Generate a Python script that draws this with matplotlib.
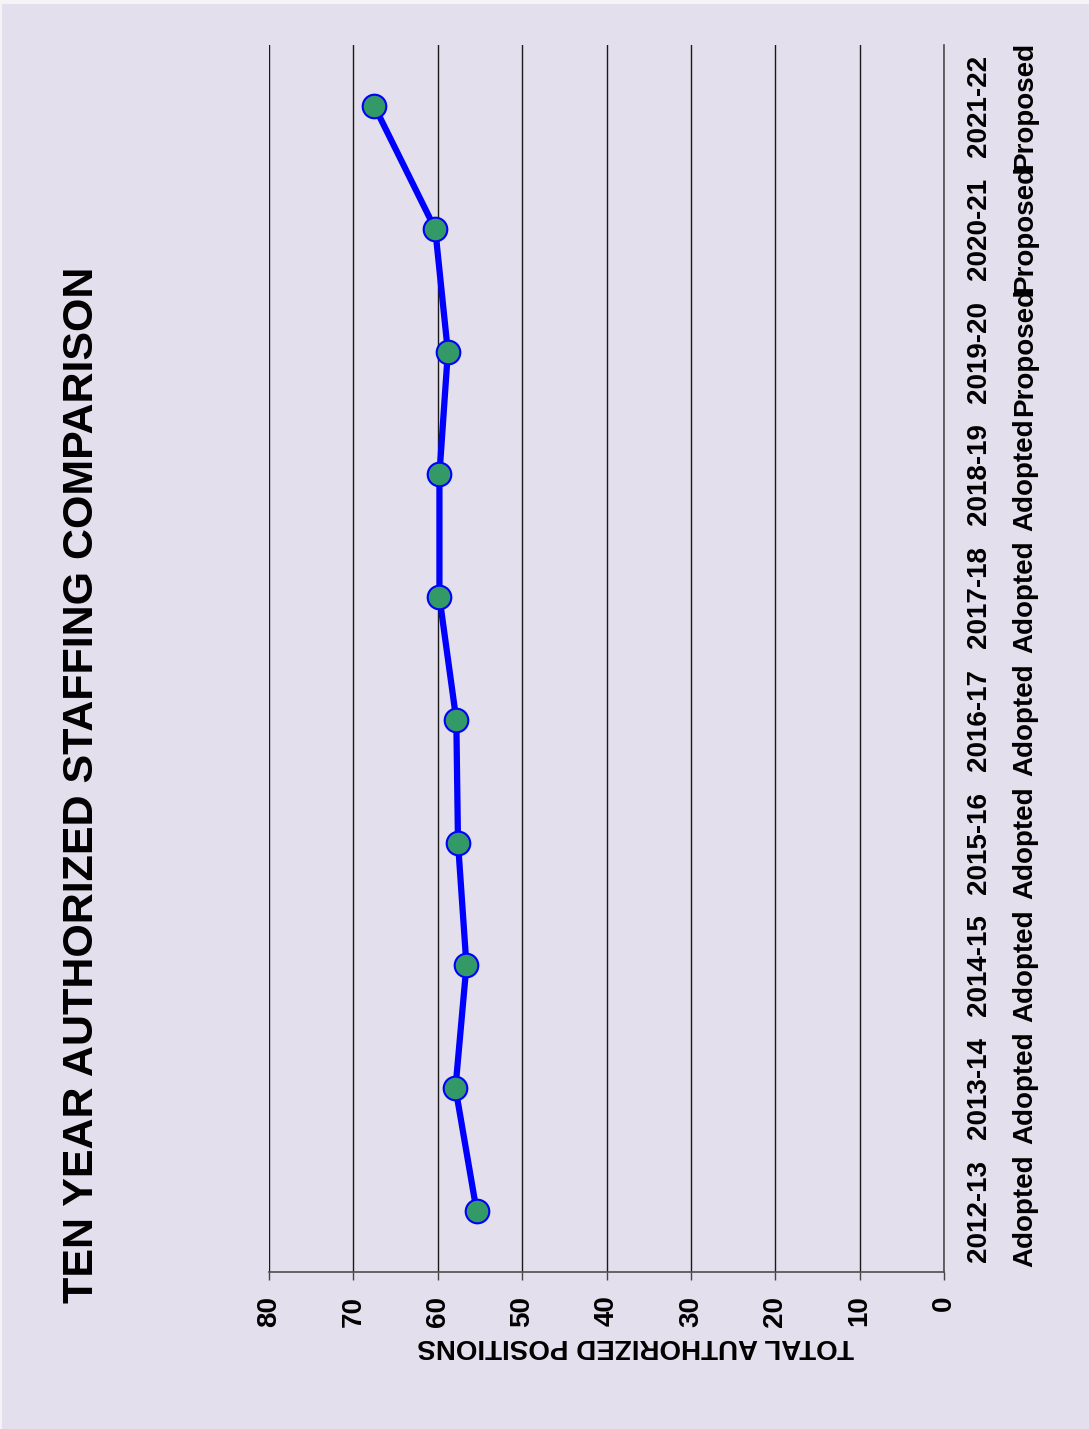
import matplotlib.pyplot as plt
from matplotlib.patches import Rectangle

# staffing data (chart is drawn rotated 90 degrees, like the source page)
years = ['2012-13', '2013-14', '2014-15', '2015-16', '2016-17',
         '2017-18', '2018-19', '2019-20', '2020-21', '2021-22']
status = ['Adopted'] * 7 + ['Proposed'] * 3
positions = [55.4, 57.9, 56.6, 57.6, 57.8, 59.8, 59.8, 58.8, 60.3, 67.5]
value_ticks = [0, 10, 20, 30, 40, 50, 60, 70, 80]

bg = '#E4DFEC'
plt.rcParams['font.family'] = ['Liberation Sans', 'DejaVu Sans']
plt.rcParams['font.weight'] = 'bold'

W, H = 1089, 1429
fig = plt.figure(figsize=(W / 100, H / 100), dpi=100, facecolor='#F4F4F6')
fig.patches.append(Rectangle((2 / W, 0), 1 - 2 / W, 1 - 4 / H, transform=fig.transFigure,
                             facecolor=bg, edgecolor='none', zorder=-5))

ax = fig.add_axes([269 / W, 1 - 1272 / H, (944 - 269) / W, (1272 - 45) / H])
ax.set_facecolor(bg)
ax.set_zorder(2)

ypos = list(range(len(years)))
ax.plot(positions, ypos, color='#0000FF', lw=4.5, marker='o', markersize=17,
        markerfacecolor='#339966', markeredgecolor='#0000FF', markeredgewidth=1.5, zorder=3)

ax.set_xlim(80, 0)
ax.set_ylim(-0.5, len(years) - 0.5)

ax.set_xticks(value_ticks)
ax.set_xticklabels([str(v) for v in value_ticks], rotation=90, fontsize=20, fontweight='bold')
ax.tick_params(axis='x', direction='out', length=6, width=1, color='#444444', pad=11)
for lbl in ax.get_xticklabels():
    lbl.set_va('top')
    lbl.set_ha('center')
ax.xaxis.grid(True, color='#1a1a1a', lw=1)
ax.set_axisbelow(True)

ax.yaxis.tick_right()
ax.set_yticks(ypos)
ax.set_yticklabels([y + '\n' + s for y, s in zip(years, status)], rotation=90,
                   fontsize=20, fontweight='bold', linespacing=2.0)
ax.tick_params(axis='y', length=0, pad=16)
for lbl in ax.get_yticklabels():
    lbl.set_ha('left')
    lbl.set_va('center')
    lbl.set_multialignment('center')

for s in ['left', 'top']:
    ax.spines[s].set_visible(False)
for s in ['right', 'bottom']:
    ax.spines[s].set_color('#4d4d4d')
    ax.spines[s].set_linewidth(1.2)

fig.text(636 / W, 1 - 1346 / H, 'TOTAL AUTHORIZED POSITIONS', rotation=180,
         ha='center', va='center', fontsize=20, fontweight='bold')
fig.text(82 / W, 1 - 785 / H, 'TEN YEAR AUTHORIZED STAFFING COMPARISON', rotation=90,
         ha='center', va='center', fontsize=31, fontweight='bold')

fig.savefig('out.png', dpi=100, facecolor=fig.get_facecolor())
